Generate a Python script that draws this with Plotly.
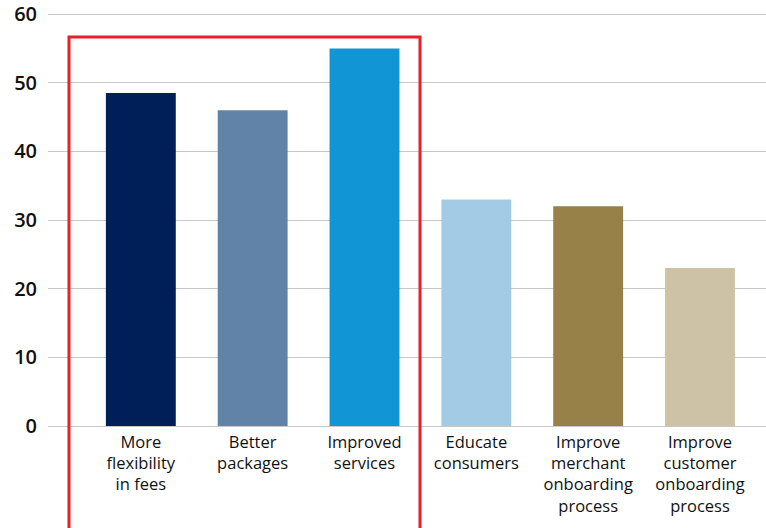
import plotly.graph_objects as go

categories = ["More<br>flexibility<br>in fees", "Better<br>packages", "Improved<br>services",
              "Educate<br>consumers", "Improve<br>merchant<br>onboarding<br>process",
              "Improve<br>customer<br>onboarding<br>process"]
values = [48.5, 46, 55, 33, 32, 23]
colors = ["#001E57", "#6283A8", "#1195D4", "#A4CBE6", "#978148", "#CDC2A5"]
tick_vals = [0, 10, 20, 30, 40, 50, 60]

PX_PER_UNIT = 412 / 60
Y_TOP = 60.6
W, H = 766, 528
B = 102
T = int(round(14 - (Y_TOP - 60) * PX_PER_UNIT))
L, R = 48, 0

fig = go.Figure(go.Bar(
    x=list(range(len(categories))), y=values,
    marker=dict(color=colors, line=dict(width=0)),
    width=0.625,
))

fig.update_layout(
    width=W, height=H,
    margin=dict(l=L, r=R, t=T, b=B, autoexpand=False),
    plot_bgcolor="white", paper_bgcolor="white",
    showlegend=False,
    font=dict(family="Open Sans, sans-serif", color="#111111"),
    xaxis=dict(
        range=[-0.83, 5.59], automargin=False,
        tickmode="array", tickvals=list(range(len(categories))), ticktext=categories,
        tickfont=dict(size=16.5, color="#111111"),
        showgrid=False, showline=False, zeroline=False, ticks="",
        ticklabelstandoff=4,
    ),
    yaxis=dict(
        range=[0, Y_TOP], automargin=False,
        tickmode="array", tickvals=tick_vals,
        tickfont=dict(size=20, color="#111111", weight=600),
        showgrid=True, gridcolor="#C8C8C8", gridwidth=1,
        zeroline=True, zerolinecolor="#C8C8C8", zerolinewidth=1,
        showline=False, ticks="", ticklabelstandoff=10,
        ticklabeloverflow="allow",
    ),
)

pw = W - L - R
ph = H - T - B
def px_x(p):
    return (p - L) / pw
def px_y(p):
    return (H - B - p) / ph

fig.add_shape(
    type="rect", xref="paper", yref="paper",
    x0=px_x(69), x1=px_x(420), y0=px_y(540), y1=px_y(37),
    line=dict(color="#E8202A", width=3), fillcolor="rgba(0,0,0,0)",
    layer="above",
)

fig.write_html("out.html", config={"displayModeBar": False},
               post_script="document.body.style.margin='0';")
